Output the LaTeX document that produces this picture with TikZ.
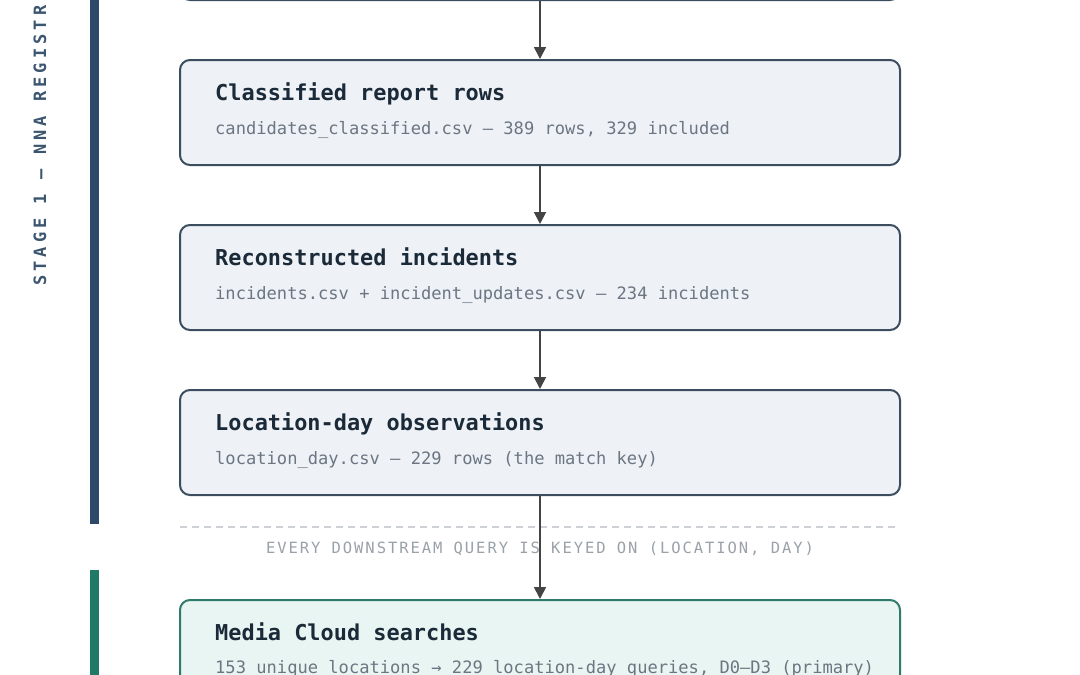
\documentclass[tikz,border=0pt]{standalone}
\usepackage{fontspec}
\setmonofont{DejaVu Sans Mono}
\usetikzlibrary{arrows.meta,positioning}
\definecolor{boxline}{HTML}{3B4D5E}
\definecolor{boxfill}{HTML}{EEF1F6}
\definecolor{medialine}{HTML}{2F7A6B}
\definecolor{mediafill}{HTML}{E9F5F2}
\definecolor{titlecol}{HTML}{1B2A38}
\definecolor{notecol}{HTML}{6B7682}
\definecolor{keycol}{HTML}{9AA1A8}
\definecolor{dashcol}{HTML}{CDD1D6}
\definecolor{arrowcol}{HTML}{444444}
\definecolor{stageone}{HTML}{2D4A68}
\definecolor{stagetwo}{HTML}{217A66}
\definecolor{stagetext}{HTML}{3D5670}
\begin{document}
\begin{tikzpicture}[x=1pt,y=-1pt,
  stepbox/.style={draw=boxline, fill=boxfill, line width=2pt, rounded corners=10pt,
    minimum width=720pt, minimum height=105pt, inner sep=0pt},
  mediabox/.style={stepbox, draw=medialine, fill=mediafill},
  boxtitle/.style={anchor=base west, inner sep=0pt, text=titlecol,
    font=\ttfamily\bfseries\fontsize{21.9}{26}\selectfont},
  boxnote/.style={anchor=base west, inner sep=0pt, text=notecol,
    font=\ttfamily\fontsize{17.1}{20}\selectfont},
  keynote/.style={inner sep=0pt, text=keycol,
    font=\ttfamily\fontsize{15.5}{18}\selectfont\addfontfeature{LetterSpace=12.5}},
  stagelabel/.style={rotate=90, anchor=west, inner sep=0pt, text=stagetext,
    font=\ttfamily\bfseries\fontsize{17}{20}\selectfont\addfontfeature{LetterSpace=24}},
  flow/.style={draw=arrowcol, line width=1.8pt, -{Triangle[length=12pt,width=12pt]}}]
\clip (0,0) rectangle (1080,675);
\fill[white] (0,0) rectangle (1080,675);

% stage bars
\fill[stageone] (90,0) rectangle (99,524);
\fill[stagetwo] (90,570) rectangle (99,675);
\node[stagelabel] (stage1) at (40,286) {STAGE 1 — NNA REGISTR};

% steps
\node[stepbox] (prev) at (540,-52.5) {};
\node[stepbox] (rows) at (540,112.5) {};
\node[boxtitle] (rowsT) at ([shift={(36,41)}]rows.north west) {Classified report rows};
\node[boxnote] (rowsN) at ([shift={(36,75)}]rows.north west) {candidates\_classified.csv — 389 rows, 329 included};
\node[stepbox] (incid) at (540,277.5) {};
\node[boxtitle] (incidT) at ([shift={(36,41)}]incid.north west) {Reconstructed incidents};
\node[boxnote] (incidN) at ([shift={(36,75)}]incid.north west) {incidents.csv + incident\_updates.csv — 234 incidents};
\node[stepbox] (locday) at (540,442.5) {};
\node[boxtitle] (locdayT) at ([shift={(36,41)}]locday.north west) {Location-day observations};
\node[boxnote] (locdayN) at ([shift={(36,75)}]locday.north west) {location\_day.csv — 229 rows (the match key)};
\node[mediabox] (media) at (540,652.5) {};
\node[boxtitle] (mediaT) at ([shift={(36,41)}]media.north west) {Media Cloud searches};
\node[boxnote] (mediaN) at ([shift={(36,74)}]media.north west) {153 unique locations → 229 location-day queries, D0–D3 (primary)};

% key divider
\coordinate (cutL) at (180,527);
\coordinate (cutR) at (895,527);
\draw[dashcol, line width=1.2pt, dash pattern=on 7pt off 5pt] (cutL) -- (cutR);
\node[keynote] (key) at (540,549) {EVERY DOWNSTREAM QUERY IS KEYED ON (LOCATION, DAY)};

\draw[flow] (prev) -- (rows);
\draw[flow] (rows) -- (incid);
\draw[flow] (incid) -- (locday);
\draw[flow] (locday) -- (media);
\end{tikzpicture}
\end{document}
